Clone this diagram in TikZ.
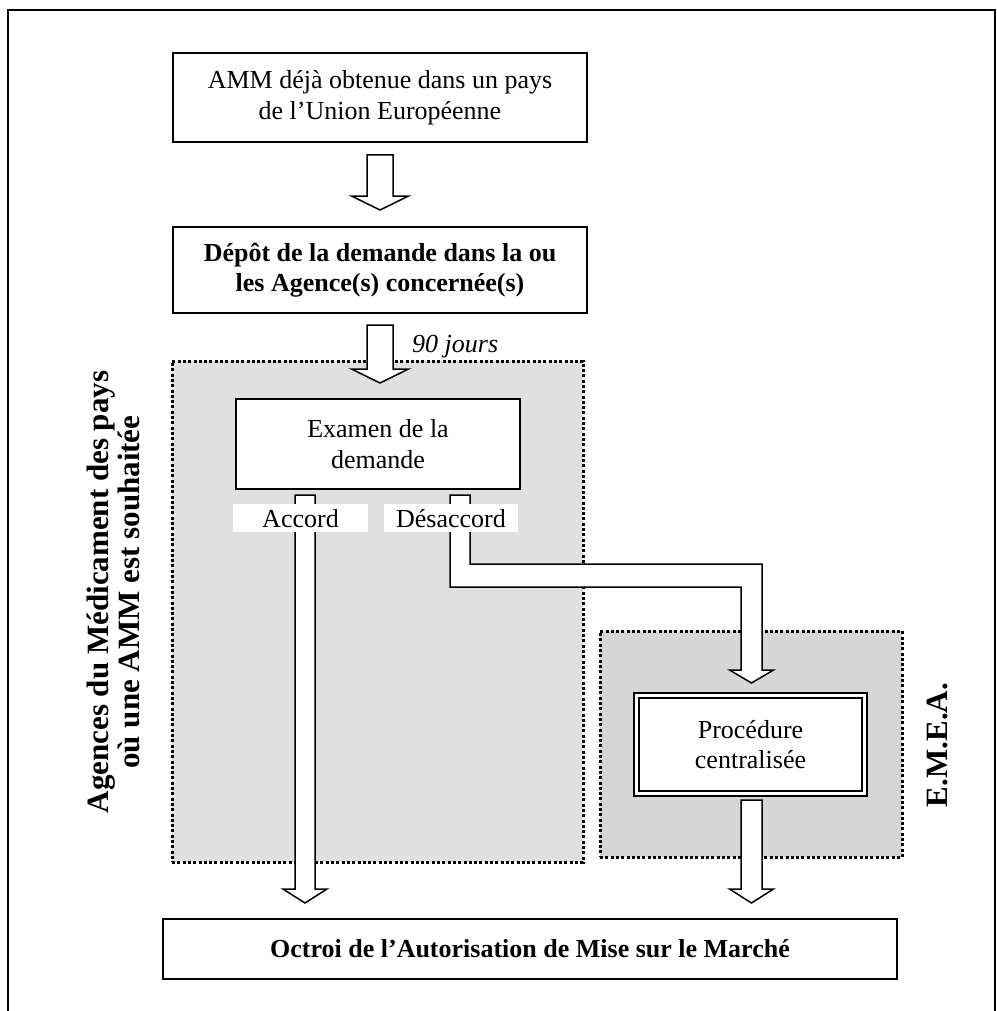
\documentclass[tikz,border=0pt]{standalone}
\usepackage{fontspec}
\setmainfont{Liberation Serif}
\usetikzlibrary{calc}
\newcommand{\blockarrow}[5]{\draw[harrow] ([xshift=-#3]#1) -- ([xshift=#3]#1) -- ([xshift=#3,yshift=#5]#2) -- ([xshift=#4,yshift=#5]#2) -- (#2) -- ([xshift=-#4,yshift=#5]#2) -- ([xshift=-#3,yshift=#5]#2) -- cycle;}
\begin{document}
\begin{tikzpicture}[x=1pt,y=-1pt,
  box/.style={draw, line width=1.5pt, fill=white, align=center, inner sep=0pt, outer sep=0pt, font=\fontsize{26}{30.5}\selectfont},
  boldbox/.style={box, font=\fontsize{26}{30.5}\selectfont\bfseries},
  zone/.style={draw, line width=3pt, dash pattern=on 3pt off 2.3pt, fill=#1, inner sep=0pt, outer sep=0pt},
  harrow/.style={draw, line width=1.5pt, fill=white, line join=miter},
  lbl/.style={fill=white, inner sep=0pt, outer sep=0pt, text height=22pt, text depth=3pt, font=\fontsize{26}{30}\selectfont},
  vlabel/.style={rotate=90, align=center, inner sep=0pt, font=\fontsize{31}{31}\selectfont\bfseries},
]
\useasboundingbox (0,0) rectangle (996,1011);
\draw[line width=1.4pt] (8,1011) -- (8,10) -- (995,10) -- (995,1011);

\node[box, minimum width=414pt, minimum height=89pt] (box1) at (380,97.5)
  {AMM déjà obtenue dans un pays\\de l’Union Européenne};
\node[boldbox, minimum width=414pt, minimum height=86pt] (box2) at (380,270)
  {Dépôt de la demande dans la ou\\les Agence(s) concernée(s)};

\node[zone=gray!24, minimum width=411pt, minimum height=501pt] (zone1) at (377.5,611.5) {};
\node[zone=gray!32, minimum width=302pt, minimum height=226pt] (zone2) at (751,744) {};

\node[box, minimum width=284pt, minimum height=90pt] (examen) at (378,444)
  {Examen de la\\demande};
\node[box, double, double distance=3.5pt, minimum width=228pt, minimum height=98pt] (proc) at (750.5,744.5)
  {Procédure\\centralisée};
\node[boldbox, minimum width=734pt, minimum height=60pt] (final) at (530,949)
  {Octroi de l’Autorisation de Mise sur le Marché};

\coordinate (a1s) at ($(box1.south)+(0,13)$);
\coordinate (a1t) at ($(box2.north)+(0,-17)$);
\coordinate (a2s) at ($(box2.south)+(0,12)$);
\coordinate (a2t) at ($(examen.north)+(2,-16)$);
\coordinate (acs) at ($(examen.south west)+(69,6)$);
\coordinate (act) at ($(final.north west)+(142,-16)$);
\coordinate (dtop) at ($(examen.south west)+(224,6)$);
\coordinate (ek) at ($(examen.south west)+(224,86.5)$);
\coordinate (dtip) at ($(proc.north)+(1,-12.5)$);
\coordinate (ek2) at (dtip |- ek);
\coordinate (ls) at ($(proc.south)+(1,6.5)$);
\coordinate (lt) at ($(final.north west)+(588.5,-16)$);

\blockarrow{a1s}{a1t}{13pt}{28.5pt}{14pt}
\blockarrow{a2s}{a2t}{13pt}{28.5pt}{14pt}
\blockarrow{acs}{act}{10pt}{22pt}{14pt}
\blockarrow{ls}{lt}{10.5pt}{22pt}{14pt}
\draw[harrow] ([xshift=-10pt]dtop) -- ([xshift=10pt]dtop) -- ([xshift=10pt,yshift=11.5pt]ek)
  -- ([xshift=10.5pt,yshift=11.5pt]ek2) -- ([xshift=10.5pt,yshift=13pt]dtip)
  -- ([xshift=22pt,yshift=13pt]dtip) -- (dtip) -- ([xshift=-22pt,yshift=13pt]dtip)
  -- ([xshift=-10.5pt,yshift=13pt]dtip) -- ([xshift=-10.5pt,yshift=-11.5pt]ek2)
  -- ([xshift=-10pt,yshift=-11.5pt]ek) -- cycle;

\node[lbl, minimum width=135pt, minimum height=28pt] (accord) at (300.5,518) {Accord};
\node[lbl, minimum width=134pt, minimum height=28pt] (desaccord) at (451,518) {Désaccord};

\node[anchor=base west, inner sep=0pt, font=\fontsize{26}{30}\selectfont\itshape] (jours) at (412,352) {90 jours};

\node[vlabel] (agences) at (113,592) {Agences du Médicament des pays\\où une AMM est souhaitée};
\node[vlabel] (emea) at (937,745) {E.M.E.A.};
\end{tikzpicture}
\end{document}
